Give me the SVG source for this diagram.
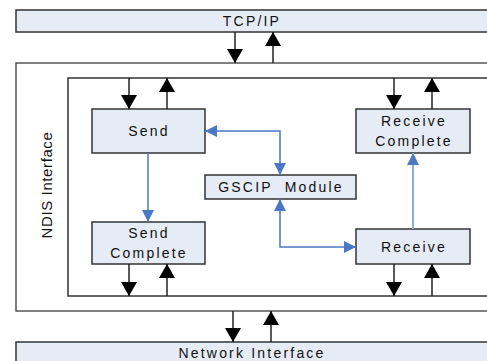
<svg xmlns="http://www.w3.org/2000/svg" width="487" height="361" viewBox="0 0 487 361">
  <defs>
    <style>
      .box { fill: #e6ecf6; stroke: #333; stroke-width: 1.5; }
      .frame { fill: #fff; stroke: #555; stroke-width: 1.5; }
      .lbl { font-family: "Liberation Sans", Arial, sans-serif; font-size: 14px; letter-spacing: 2.2px; fill: #111; text-anchor: middle; }
      .side { font-family: "Liberation Sans", Arial, sans-serif; font-size: 15px; letter-spacing: 0.6px; fill: #111; text-anchor: middle; }
      .blk { stroke: #222; stroke-width: 1.5; fill: none; }
      .blu { stroke: #4a78c4; stroke-width: 1.5; fill: none; }
      .blu2 { stroke: #8eaadb; stroke-width: 2; fill: none; }
    </style>
    <marker id="ah" viewBox="0 0 14 16" refX="14" refY="8" markerWidth="14" markerHeight="16" markerUnits="userSpaceOnUse" orient="auto">
      <path d="M0,0 L14,8 L0,16 Z" fill="#000"/>
    </marker>
    <marker id="bh" viewBox="0 0 12 12" refX="12" refY="6" markerWidth="12" markerHeight="12" markerUnits="userSpaceOnUse" orient="auto-start-reverse">
      <path d="M0,0 L12,6 L0,12 Z" fill="#4a78c4"/>
    </marker>
  </defs>

  <!-- layers -->
  <g id="tcpip">
    <rect class="box" x="16" y="10" width="480" height="22"/>
    <text class="lbl" x="252" y="26">TCP/IP</text>
  </g>
  <g id="ndis">
    <rect class="frame" x="16" y="63" width="480" height="248"/>
    <text class="side" transform="translate(52,185) rotate(-90)">NDIS Interface</text>
  </g>
  <g id="inner">
    <rect class="frame" x="68" y="78" width="428" height="218" style="stroke:#333"/>
  </g>
  <g id="netif">
    <rect class="box" x="16" y="342" width="480" height="30"/>
    <text class="lbl" x="252" y="358">Network Interface</text>
  </g>

  <!-- nodes -->
  <g id="send">
    <rect class="box" x="92" y="109" width="113" height="44"/>
    <text class="lbl" x="149" y="136">Send</text>
  </g>
  <g id="send-complete">
    <rect class="box" x="92" y="222" width="113" height="42"/>
    <text class="lbl" x="149" y="238">Send</text>
    <text class="lbl" x="149" y="258">Complete</text>
  </g>
  <g id="gscip">
    <rect class="box" x="205" y="175" width="151" height="24"/>
    <text class="lbl" x="281" y="192" xml:space="preserve">GSCIP  Module</text>
  </g>
  <g id="receive-complete">
    <rect class="box" x="356" y="109" width="114" height="44"/>
    <text class="lbl" x="414" y="126">Receive</text>
    <text class="lbl" x="414" y="146">Complete</text>
  </g>
  <g id="receive">
    <rect class="box" x="356" y="229" width="114" height="35"/>
    <text class="lbl" x="414" y="252">Receive</text>
  </g>

  <!-- connectors -->
  <g id="connectors">
    <line class="blk" x1="235" y1="32" x2="235" y2="63" marker-end="url(#ah)"/>
    <line class="blk" x1="273" y1="63" x2="273" y2="32" marker-end="url(#ah)"/>
    <line class="blk" x1="129" y1="78" x2="129" y2="109" marker-end="url(#ah)"/>
    <line class="blk" x1="167" y1="109" x2="167" y2="78" marker-end="url(#ah)"/>
    <line class="blk" x1="394" y1="78" x2="394" y2="109" marker-end="url(#ah)"/>
    <line class="blk" x1="432" y1="109" x2="432" y2="78" marker-end="url(#ah)"/>
    <line class="blk" x1="129" y1="264" x2="129" y2="296" marker-end="url(#ah)"/>
    <line class="blk" x1="167" y1="296" x2="167" y2="264" marker-end="url(#ah)"/>
    <line class="blk" x1="394" y1="264" x2="394" y2="296" marker-end="url(#ah)"/>
    <line class="blk" x1="432" y1="296" x2="432" y2="264" marker-end="url(#ah)"/>
    <line class="blk" x1="233" y1="311" x2="233" y2="342" marker-end="url(#ah)"/>
    <line class="blk" x1="271" y1="342" x2="271" y2="311" marker-end="url(#ah)"/>

    <line class="blu" x1="148" y1="153" x2="148" y2="222" marker-end="url(#bh)"/>
    <polyline class="blu" points="205,131 280,131 280,175" marker-start="url(#bh)" marker-end="url(#bh)"/>
    <polyline class="blu" points="280,199 280,247 356,247" marker-start="url(#bh)" marker-end="url(#bh)"/>
    <line class="blu2" x1="413" y1="229" x2="413" y2="153" marker-end="url(#bh)"/>
  </g>
</svg>
